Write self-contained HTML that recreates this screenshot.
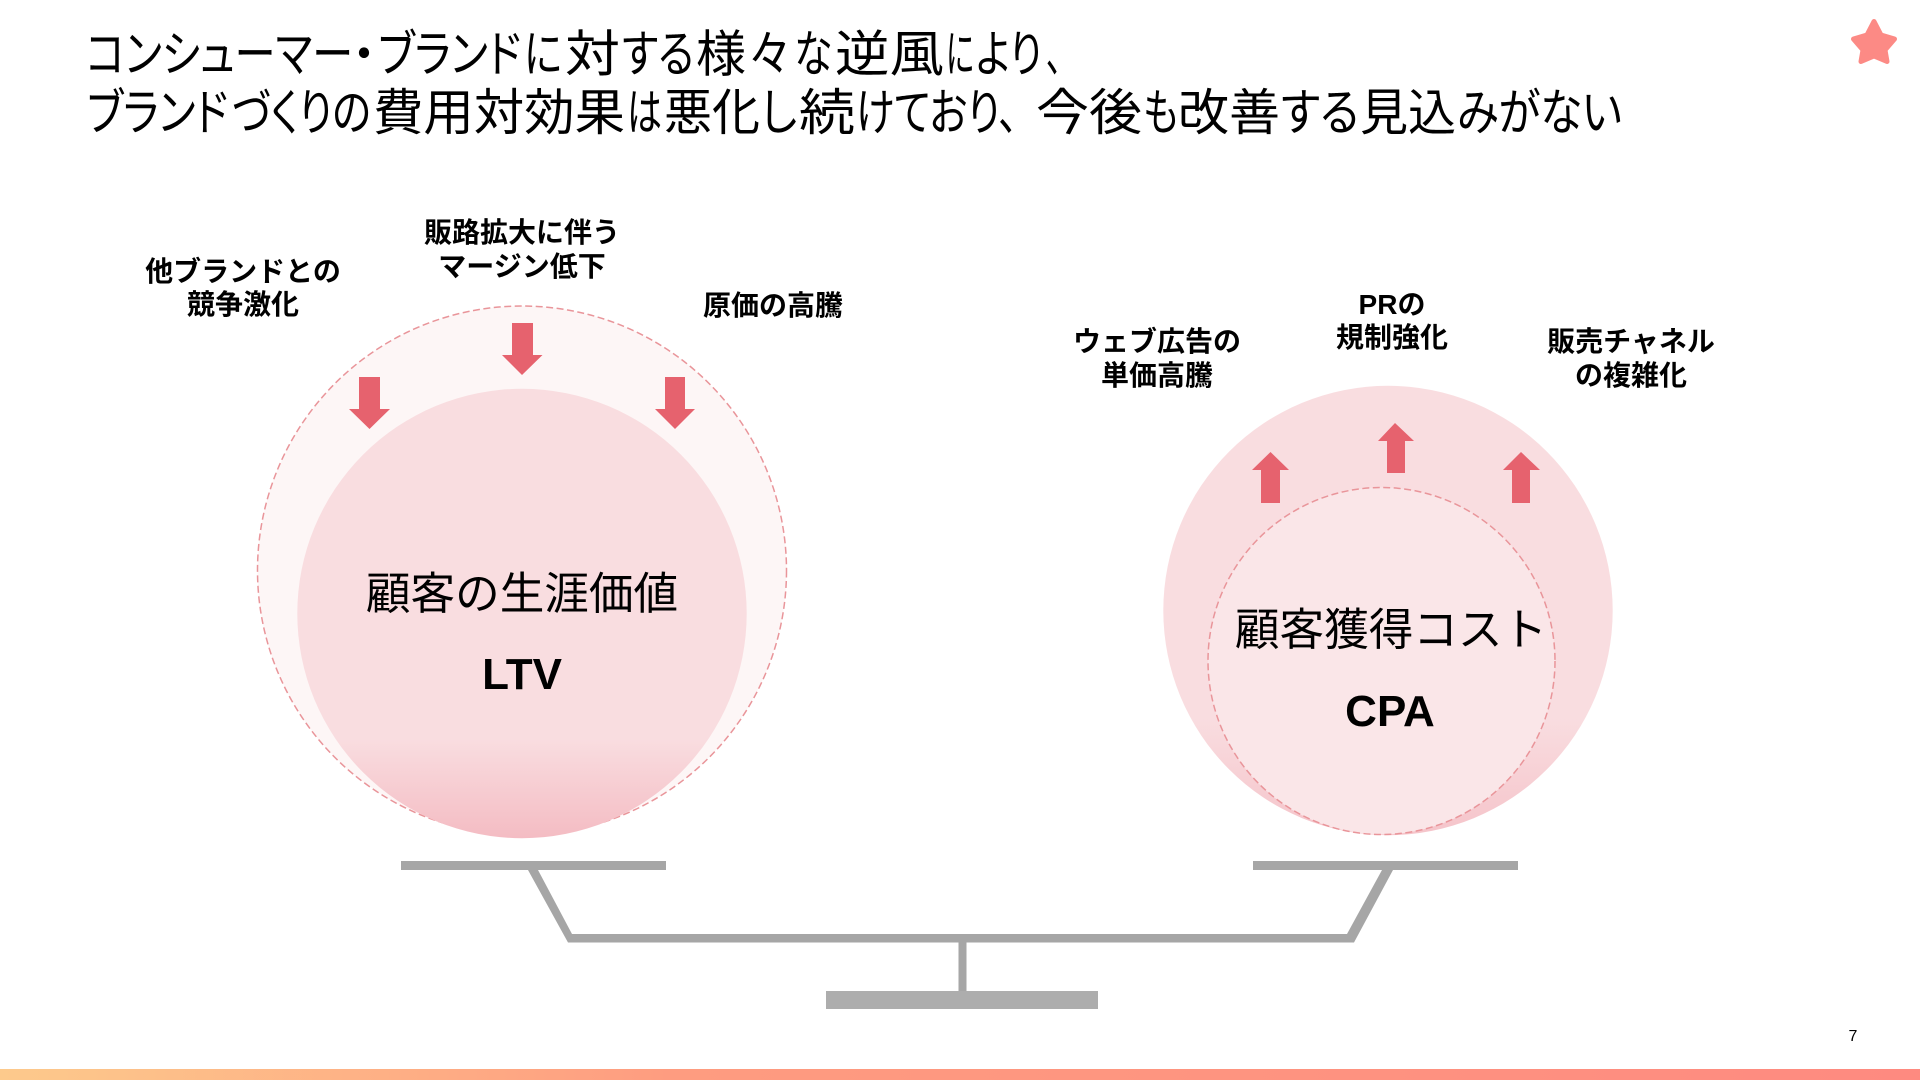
<!DOCTYPE html>
<html lang="ja"><head><meta charset="utf-8"><style>
html,body{margin:0;padding:0;background:#fff;width:1920px;height:1080px;overflow:hidden}
svg{display:block}
text{font-family:"Liberation Sans","Noto Sans CJK JP",sans-serif;fill:#000}
.t text{font-size:50px;font-weight:400;font-feature-settings:"palt"}
.l{font-size:28px;font-weight:700;text-anchor:middle}
.m{font-size:44.6px;text-anchor:middle}
.b{font-size:44px;font-weight:700;text-anchor:middle}
</style></head><body>
<svg width="1920" height="1080" viewBox="0 0 1920 1080" xmlns="http://www.w3.org/2000/svg">
<defs>
<linearGradient id="bar" x1="0" x2="1" y1="0" y2="0"><stop offset="0" stop-color="#fdca8c"/><stop offset=".35" stop-color="#fe9c80"/><stop offset="1" stop-color="#fe8a80"/></linearGradient>
<linearGradient id="c1" x1="0" x2="0" y1="0" y2="1"><stop offset="0" stop-color="#f9dde0"/><stop offset=".78" stop-color="#f9dde0"/><stop offset="1" stop-color="#f4bcc3"/></linearGradient>
<linearGradient id="c2" x1="0" x2="0" y1="0" y2="1"><stop offset="0" stop-color="#f9dde0"/><stop offset=".74" stop-color="#f9dde0"/><stop offset="1" stop-color="#f5c4ca"/></linearGradient>
</defs>
<g class="t">
<text y="71.5" x="86" textLength="267" lengthAdjust="spacingAndGlyphs">コンシューマー</text>
<text y="71.5" x="352" textLength="24" lengthAdjust="spacingAndGlyphs">・</text>
<text y="71.5" x="378" textLength="143" lengthAdjust="spacingAndGlyphs">ブランド</text>
<text y="71.5" x="524" textLength="38" lengthAdjust="spacingAndGlyphs">に</text>
<text y="71.5" x="565" textLength="55" lengthAdjust="spacingAndGlyphs">対</text>
<text y="71.5" x="622" textLength="72" lengthAdjust="spacingAndGlyphs">する</text>
<text y="71.5" x="696" textLength="50" lengthAdjust="spacingAndGlyphs">様</text>
<text y="71.5" x="748" textLength="42" lengthAdjust="spacingAndGlyphs">々</text>
<text y="71.5" x="794" textLength="38" lengthAdjust="spacingAndGlyphs">な</text>
<text y="71.5" x="835" textLength="109" lengthAdjust="spacingAndGlyphs">逆風</text>
<text y="71.5" x="946" textLength="28" lengthAdjust="spacingAndGlyphs">に</text>
<text y="71.5" x="976" textLength="66" lengthAdjust="spacingAndGlyphs">より</text>
<text y="71.5" x="1046" textLength="16" lengthAdjust="spacingAndGlyphs">、</text>

<text y="130" x="87" textLength="141" lengthAdjust="spacingAndGlyphs">ブランド</text>
<text y="130" x="232" textLength="139" lengthAdjust="spacingAndGlyphs">づくりの</text>
<text y="130" x="373" textLength="252" lengthAdjust="spacingAndGlyphs">費用対効果</text>
<text y="130" x="627" textLength="35" lengthAdjust="spacingAndGlyphs">は</text>
<text y="130" x="664" textLength="96" lengthAdjust="spacingAndGlyphs">悪化</text>
<text y="130" x="761" textLength="36" lengthAdjust="spacingAndGlyphs">し</text>
<text y="130" x="799" textLength="56" lengthAdjust="spacingAndGlyphs">続</text>
<text y="130" x="856" textLength="162" lengthAdjust="spacingAndGlyphs">けており、</text>
<text y="130" x="1036" textLength="106" lengthAdjust="spacingAndGlyphs">今後</text>
<text y="130" x="1143" textLength="35" lengthAdjust="spacingAndGlyphs">も</text>
<text y="130" x="1178" textLength="102" lengthAdjust="spacingAndGlyphs">改善</text>
<text y="130" x="1281" textLength="78" lengthAdjust="spacingAndGlyphs">する</text>
<text y="130" x="1360" textLength="96" lengthAdjust="spacingAndGlyphs">見込</text>
<text y="130" x="1457" textLength="165" lengthAdjust="spacingAndGlyphs">みがない</text>
</g>
<path d="M1874 21.5L1881 35L1894.5 39L1885 50L1887 61.5L1874 56L1861 61.5L1863 50L1853.5 39L1867 35Z" fill="#fc8a85" stroke="#fc8a85" stroke-width="5" stroke-linejoin="round"/>

<circle cx="522" cy="570.5" r="264.5" fill="#fdf6f6" stroke="#e9959a" stroke-width="1.5" stroke-dasharray="7 3.5"/>
<circle cx="522" cy="613.5" r="224.7" fill="url(#c1)"/>
<circle cx="1388" cy="610.5" r="224.7" fill="url(#c2)"/>
<circle cx="1381.5" cy="661" r="173.5" fill="#fae6e8" stroke="#e9959a" stroke-width="1.5" stroke-dasharray="7 3.5"/>

<g fill="#e6626e">
<path d="M512 323H533V355H542.5L522 375L502 355H512Z"/>
<path d="M359 377H380V409H390L369.5 429L349 409H359Z"/>
<path d="M665 377H685V409H695L675 429L655 409H665Z"/>
<path d="M1395 423L1414 441H1405V473H1387V441H1378Z"/>
<path d="M1270.5 452L1289 470H1280V503H1261V470H1252Z"/>
<path d="M1521 452L1540 470H1530V503H1512V470H1503Z"/>
</g>

<g fill="#a6a6a6">
<rect x="401" y="861" width="265" height="9"/>
<rect x="1253" y="861" width="265" height="9"/>
<path d="M528 870H538L572 934H1347L1382 870H1393L1354 942.5H568Z"/>
<rect x="958.5" y="940" width="8" height="52"/>
</g>
<rect x="826" y="991" width="272" height="18" fill="#adadad"/>
<rect x="0" y="1069" width="1920" height="11" fill="url(#bar)"/>

<text class="l" x="243" y="281">他ブランドとの</text>
<text class="l" x="243" y="314">競争激化</text>
<text class="l" x="522" y="242">販路拡大に伴う</text>
<text class="l" x="522" y="276">マージン低下</text>
<text class="l" x="773" y="315">原価の高騰</text>
<text class="l" x="1157" y="351">ウェブ広告の</text>
<text class="l" x="1157" y="385">単価高騰</text>
<text class="l" x="1392" y="314">PRの</text>
<text class="l" x="1392" y="347">規制強化</text>
<text class="l" x="1631" y="351">販売チャネル</text>
<text class="l" x="1631" y="385">の複雑化</text>

<text class="m" x="522" y="609">顧客の生涯価値</text>
<text class="b" x="522" y="689">LTV</text>
<text class="m" x="1391" y="645">顧客獲得コスト</text>
<text class="b" x="1390" y="726">CPA</text>
<text x="1853" y="1041" font-size="16" text-anchor="middle">7</text>
</svg>
</body></html>
